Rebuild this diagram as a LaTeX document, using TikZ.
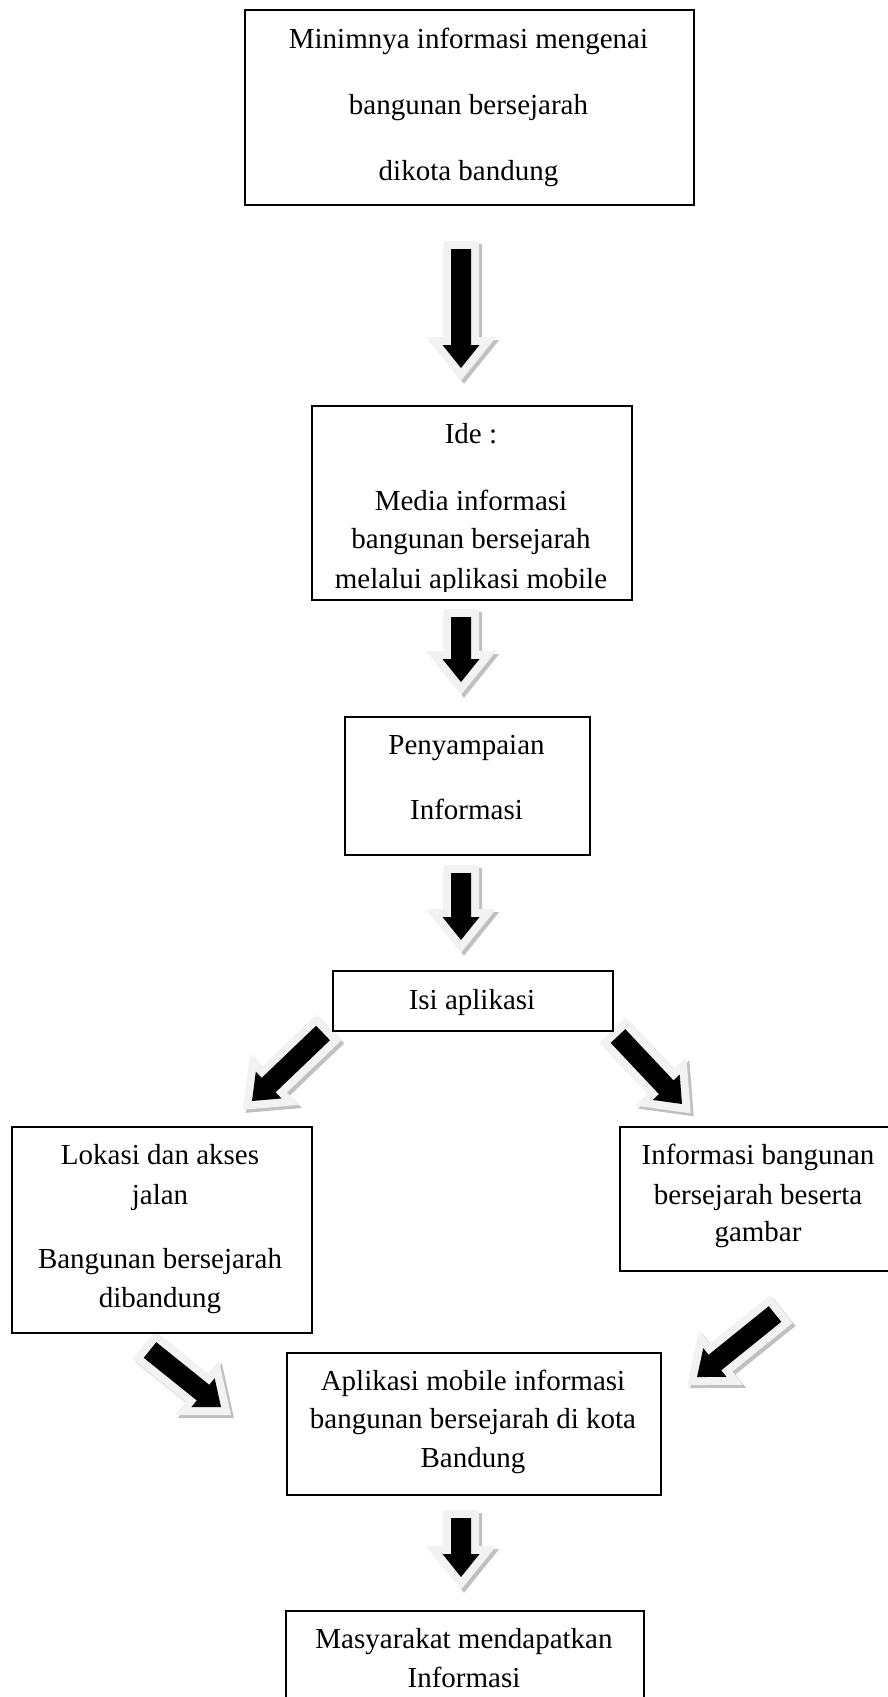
\documentclass[tikz,border=0pt]{standalone}
\usepackage{fontspec}
\setmainfont{Liberation Serif}
\usetikzlibrary{calc}
\definecolor{rimgray}{RGB}{242,242,242}
\definecolor{shadegray}{RGB}{192,192,192}

\tikzset{
  box/.style={draw, line width=1.5pt, inner sep=0pt, anchor=north west},
  line/.style={anchor=base, inner sep=0pt, font=\fontsize{29}{38}\selectfont},
  arrowshade/.style={fill=shadegray, draw=shadegray, line width=16pt, miter limit=10},
  arrowrim/.style={fill=rimgray, draw=rimgray, line width=16pt, miter limit=10},
  arrowcore/.style={fill=black},
}

% outline of a block arrow: start, tip, foot of the head
\newcommand{\arrowpath}[3]{($(#1)!10pt!90:(#2)$) -- ($(#3)!10pt!-90:(#1)$) -- ($(#3)!18.5pt!-90:(#1)$) -- (#2) -- ($(#3)!18.5pt!90:(#1)$) -- ($(#3)!10pt!90:(#1)$) -- ($(#1)!10pt!-90:(#2)$) -- cycle}

\newcommand{\blockarrow}[2]{%
  \coordinate (sa) at ($(#1)+(3pt,-3pt)$);
  \coordinate (sb) at ($(#2)+(3pt,-3pt)$);
  \coordinate (sh) at ($(sb)!23pt!(sa)$);
  \coordinate (ah) at ($(#2)!23pt!(#1)$);
  \filldraw[arrowshade] \arrowpath{sa}{sb}{sh};
  \filldraw[arrowrim] \arrowpath{#1}{#2}{ah};
  \fill[arrowcore] \arrowpath{#1}{#2}{ah};
}

\begin{document}
\begin{tikzpicture}[x=1pt, y=-1pt]
  \useasboundingbox (0,0) rectangle (888,1697);

  % block arrows
  \coordinate (a1s) at (461,249);  \coordinate (a1t) at (461,368);
  \coordinate (a2s) at (461,617);  \coordinate (a2t) at (461,682);
  \coordinate (a3s) at (461,873);  \coordinate (a3t) at (461,940);
  \coordinate (a4s) at (323,1033); \coordinate (a4t) at (252,1101);
  \coordinate (a5s) at (618,1036); \coordinate (a5t) at (682,1104);
  \coordinate (a6s) at (150,1350); \coordinate (a6t) at (221,1407);
  \coordinate (a7s) at (775,1314); \coordinate (a7t) at (697,1377);
  \coordinate (a8s) at (461,1518); \coordinate (a8t) at (461,1577);
  \foreach \i in {1,...,8} {
    \blockarrow{a\i s}{a\i t}
  }

  % boxes
  \node[box, minimum width=449, minimum height=195] (b1) at (244,9) {};
  \node[box, minimum width=320, minimum height=194] (b2) at (311,405) {};
  \node[box, minimum width=245, minimum height=138] (b3) at (344,716) {};
  \node[box, minimum width=280, minimum height=60] (b4) at (332,970) {};
  \node[box, minimum width=300, minimum height=206] (b5) at (11,1126) {};
  \node[box, minimum width=300, minimum height=144] (b6) at (619,1126) {};
  \node[box, minimum width=374, minimum height=142] (b7) at (286,1352) {};
  \node[box, minimum width=358, minimum height=120] (b8) at (285,1610) {};

  % texts
  \foreach \txt/\yy [count=\i] in {Minimnya informasi mengenai/48, bangunan bersejarah/114, dikota bandung/180}
    \node[line] (b1-\i) at (468.5,\yy) {\txt};
  \begin{scope}
    \clip (b2.north west) rectangle (631,591);
    \foreach \txt/\yy [count=\i] in {Ide :/443, Media informasi/510, bangunan bersejarah/548, melalui aplikasi mobile/588}
      \node[line] (b2-\i) at (471,\yy) {\txt};
  \end{scope}
  \foreach \txt/\yy [count=\i] in {Penyampaian/754, Informasi/819}
    \node[line] (b3-\i) at (466.5,\yy) {\txt};
  \node[line] (b4-1) at (472,1009) {Isi aplikasi};
  \foreach \txt/\yy [count=\i] in {Lokasi dan akses/1164, jalan/1204, Bangunan bersejarah/1268, dibandung/1307}
    \node[line] (b5-\i) at (160,\yy) {\txt};
  \foreach \txt/\yy [count=\i] in {Informasi bangunan/1164, bersejarah beserta/1204, gambar/1241}
    \node[line] (b6-\i) at (758,\yy) {\txt};
  \foreach \txt/\yy [count=\i] in {Aplikasi mobile informasi/1390, bangunan bersejarah di kota/1428, Bandung/1467}
    \node[line] (b7-\i) at (473,\yy) {\txt};
  \foreach \txt/\yy [count=\i] in {Masyarakat mendapatkan/1648, Informasi/1687}
    \node[line] (b8-\i) at (464,\yy) {\txt};
\end{tikzpicture}
\end{document}
